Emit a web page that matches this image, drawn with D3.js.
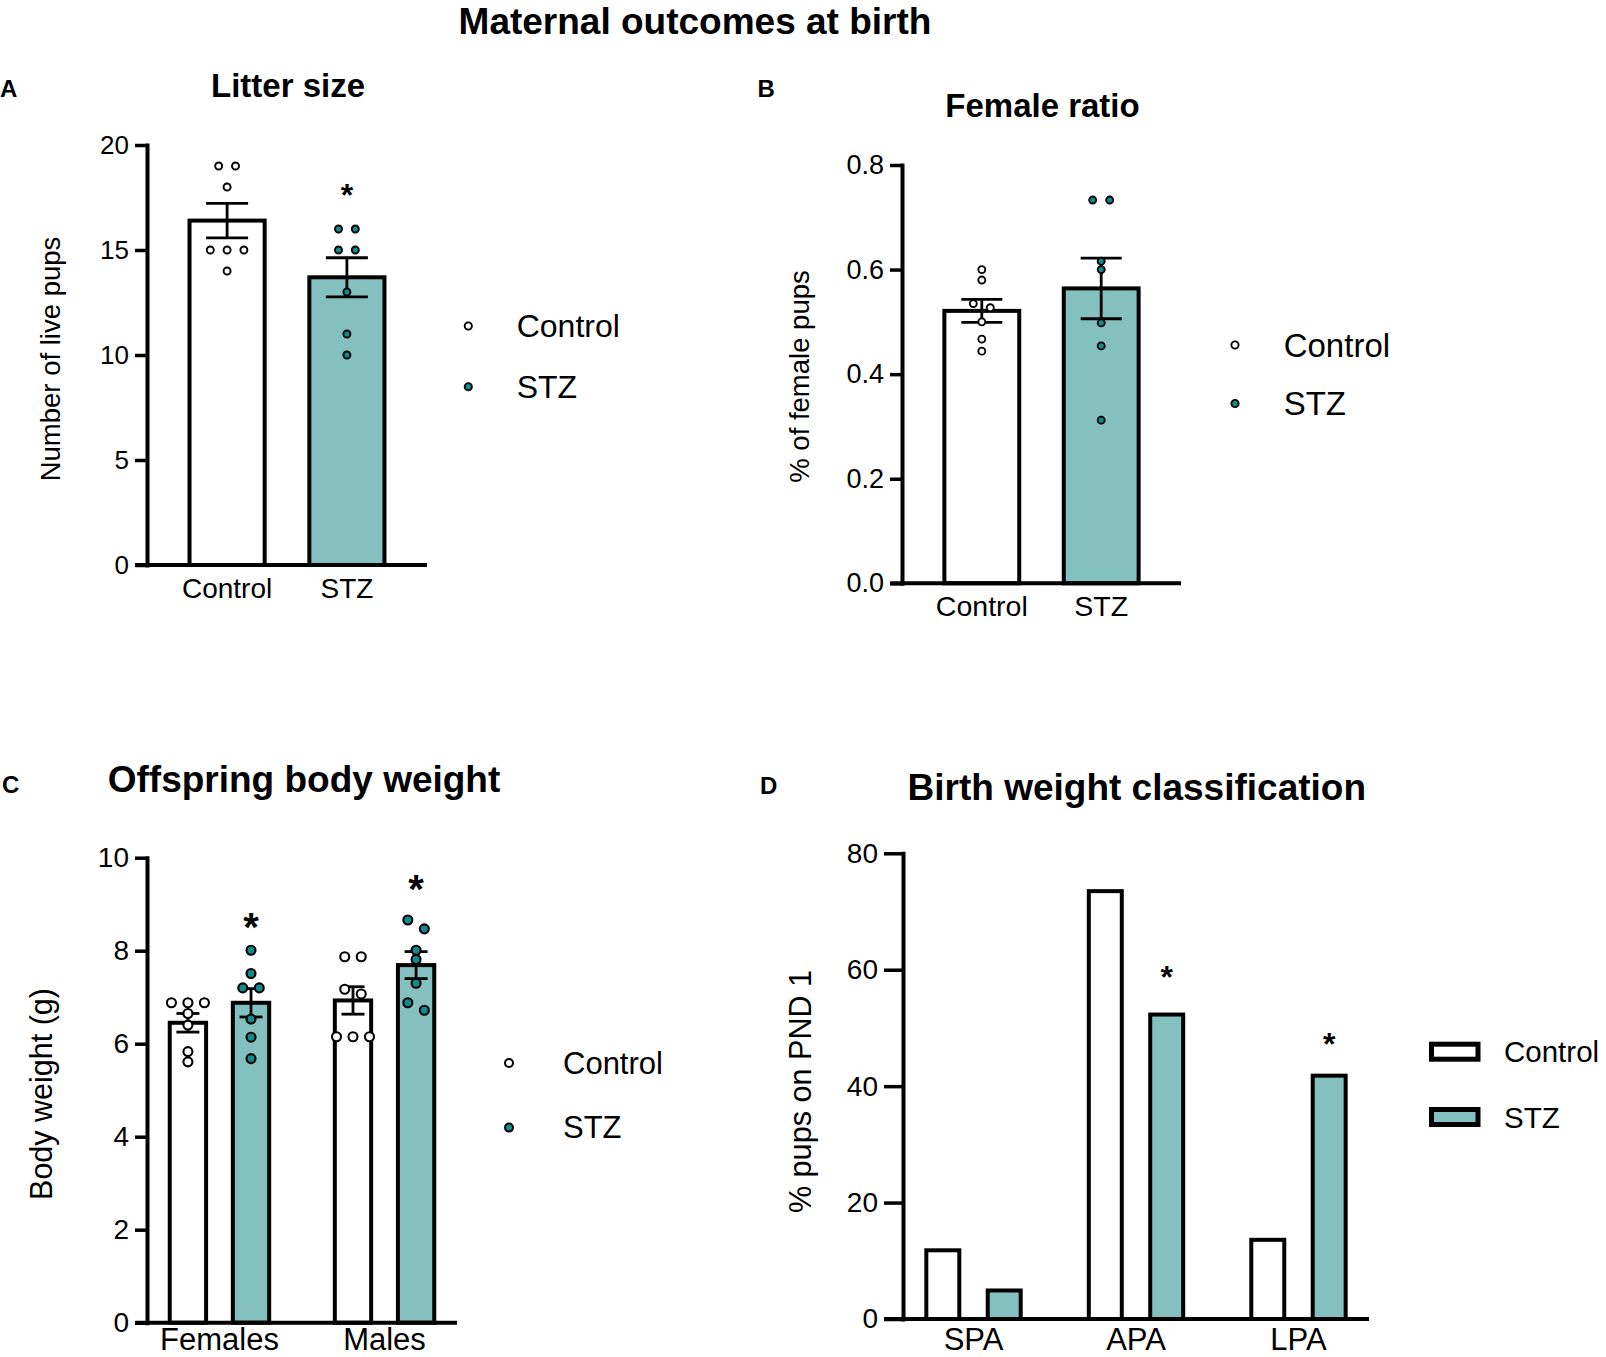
<!DOCTYPE html>
<html><head><meta charset="utf-8">
<script src="https://cdn.jsdelivr.net/npm/d3@7"></script>
<style>html,body{margin:0;padding:0;background:#fff;} svg{display:block;font-family:"Liberation Sans",Arial,Helvetica,sans-serif;}</style>
</head><body>
<script>
// ---------------- DATA ----------------
const groups = ["Control", "STZ"];

// A: Litter size
const litterControl = [19, 19, 18, 15, 15, 15, 14];
const litterSTZ = [16, 16, 15, 15, 13, 11, 10];
const litterMean = [16.4, 13.7];
const litterSEM = [0.82, 0.93];
const litterTicks = [0, 5, 10, 15, 20];
const litterStars = [{group: "STZ", value: 18.0}];

// B: Female ratio
const ratioControl = [0.600, 0.580, 0.535, 0.527, 0.500, 0.467, 0.444];
const ratioSTZ = [0.733, 0.733, 0.616, 0.600, 0.498, 0.454, 0.312];
const ratioMean = [0.521, 0.564];
const ratioSEM = [0.022, 0.058];
const ratioTicks = [0, 0.2, 0.4, 0.6, 0.8];

// C: Offspring body weight
const sexes = ["Females", "Males"];
const weightControl = {
  Females: [6.88, 6.88, 6.88, 6.65, 6.40, 5.83, 5.61],
  Males: [7.87, 7.87, 7.17, 7.07, 6.15, 6.15, 6.15]
};
const weightSTZ = {
  Females: [8.01, 7.51, 7.20, 7.20, 6.53, 6.14, 5.68],
  Males: [8.66, 8.47, 8.01, 7.81, 7.30, 6.88, 6.72]
};
const weightMeanControl = [6.45, 6.93];
const weightMeanSTZ = [6.88, 7.69];
const weightSEMControl = [0.20, 0.295];
const weightSEMSTZ = [0.305, 0.29];
const weightTicks = [0, 2, 4, 6, 8, 10];
const weightStars = [{sex: "Females", group: "STZ", value: 8.70}, {sex: "Males", group: "STZ", value: 9.52}];

// D: Birth weight classification
const classes = ["SPA", "APA", "LPA"];
const classControl = [11.8, 73.5, 13.6];
const classSTZ = [4.9, 52.3, 41.8];
const classTicks = [0, 20, 40, 60, 80];
const classStars = [{cls: "APA", value: 60}, {cls: "LPA", value: 48.5}];

// ---------------- STYLE ----------------
const TEAL_BAR = "#85c0c0";
const TEAL_DOT = "#148b8b";
const FONT = '"Liberation Sans", Arial, Helvetica, sans-serif';

const W = 1606, H = 1357;
const svg = d3.select("body").append("svg").attr("width", W).attr("height", H);
svg.append("rect").attr("width", W).attr("height", H).attr("fill", "#fff");

function txt(x, y, s, size, opts = {}) {
  const t = svg.append("text").attr("x", x).attr("y", y).text(s)
    .attr("font-size", size).attr("fill", "#000")
    .attr("font-weight", opts.bold ? "bold" : "normal")
    .attr("text-anchor", opts.anchor || "start");
  if (opts.rotate) t.attr("transform", `rotate(-90,${x},${y})`);
  return t;
}

// beeswarm-like row layout
function swarm(values, y, thresh, spacing) {
  const pts = values.map(v => ({v, py: y(v)})).sort((a, b) => a.py - b.py);
  const rows = [];
  let cur = null;
  pts.forEach(p => {
    if (cur && p.py - cur[0].py < thresh) cur.push(p);
    else { cur = [p]; rows.push(cur); }
  });
  rows.forEach(r => r.forEach((p, i) => p.dx = (i - (r.length - 1) / 2) * spacing));
  return pts;
}

function yAxis(x0, y, ticks, fmt, fontSize, tickLen) {
  const g = svg.append("g").attr("transform", `translate(${x0},0)`)
    .call(d3.axisLeft(y).tickValues(ticks).tickFormat(fmt).tickSize(tickLen).tickSizeOuter(0).tickPadding(6));
  g.select(".domain").attr("stroke", "#000").attr("stroke-width", 4).attr("stroke-linecap", "square");
  g.selectAll(".tick line").attr("stroke", "#000").attr("stroke-width", 3.5);
  g.selectAll(".tick text").attr("font-size", fontSize).attr("font-family", FONT).attr("fill", "#000");
  return g;
}

function xAxisLine(x0, x1, yv) {
  svg.append("line").attr("x1", x0).attr("x2", x1).attr("y1", yv).attr("y2", yv)
    .attr("stroke", "#000").attr("stroke-width", 4);
}

function drawBar(cx, bw, y, v, fill) {
  svg.append("rect").attr("x", cx - bw / 2).attr("y", y(v)).attr("width", bw)
    .attr("height", y(0) - y(v)).attr("fill", fill).attr("stroke", "#000").attr("stroke-width", 4);
}

function drawErr(cx, y, m, s, capW) {
  const g = svg.append("g").attr("stroke", "#000").attr("stroke-width", 2.8);
  g.append("line").attr("x1", cx).attr("x2", cx).attr("y1", y(m + s)).attr("y2", y(m - s));
  g.append("line").attr("x1", cx - capW / 2).attr("x2", cx + capW / 2).attr("y1", y(m + s)).attr("y2", y(m + s));
  g.append("line").attr("x1", cx - capW / 2).attr("x2", cx + capW / 2).attr("y1", y(m - s)).attr("y2", y(m - s));
}

function drawDots(cx, y, values, thresh, spacing, r, sw, fill) {
  swarm(values, y, thresh, spacing).forEach(p => {
    svg.append("circle").attr("cx", cx + p.dx).attr("cy", p.py).attr("r", r)
      .attr("fill", fill).attr("stroke", "#000").attr("stroke-width", sw);
  });
}

function star(x, yv, size, bold) {
  txt(x, yv, "*", size, {anchor: "middle", bold}).attr("dy", "0.58em");
}

function dotLegend(x, yc, gap, size, r, sw, textGap) {
  groups.forEach((gname, i) => {
    const yy = yc + i * gap;
    svg.append("circle").attr("cx", x).attr("cy", yy).attr("r", r)
      .attr("fill", i === 0 ? "#fff" : TEAL_DOT).attr("stroke", "#000").attr("stroke-width", sw);
    txt(x + textGap, yy + size * 0.35, gname, size);
  });
}

// ---------------- TITLE ----------------
txt(695, 34, "Maternal outcomes at birth", 37, {anchor: "middle", bold: true});

// ---------------- PANEL A ----------------
(function () {
  const y = d3.scaleLinear().domain([0, 20]).range([565, 145]);
  const x = d3.scaleBand().domain(groups).range([147, 427]).paddingInner(0.373).paddingOuter(0.355);
  txt(0, 96.5, "A", 24, {bold: true});
  txt(288, 96.7, "Litter size", 33, {anchor: "middle", bold: true});
  const dataSets = [litterControl, litterSTZ];
  groups.forEach((g, i) => {
    const cx = x(g) + x.bandwidth() / 2;
    drawBar(cx, x.bandwidth(), y, litterMean[i], i === 0 ? "#fff" : TEAL_BAR);
  });
  yAxis(147, y, litterTicks, d3.format("d"), 26, 12);
  xAxisLine(135, 427, y(0));
  groups.forEach((g, i) => {
    const cx = x(g) + x.bandwidth() / 2;
    drawErr(cx, y, litterMean[i], litterSEM[i], 42);
    drawDots(cx, y, dataSets[i], 9, 16.8, 3.5, 1.9, i === 0 ? "#fff" : TEAL_DOT);
    txt(cx, y(0) + 32.5, g, 28, {anchor: "middle"});
  });
  litterStars.forEach(s => star(x(s.group) + x.bandwidth() / 2, y(s.value), 32, true));
  txt(60, 359, "Number of live pups", 27.5, {anchor: "middle", rotate: true});
  dotLegend(468.3, 326, 60.7, 32, 3.6, 1.9, 48.4);
})();

// ---------------- PANEL B ----------------
(function () {
  const y = d3.scaleLinear().domain([0, 0.8]).range([583.3, 165]);
  const x = d3.scaleBand().domain(groups).range([902, 1181]).paddingInner(0.373).paddingOuter(0.355);
  txt(757.6, 97, "B", 24, {bold: true});
  txt(1042.5, 117, "Female ratio", 33, {anchor: "middle", bold: true});
  const dataSets = [ratioControl, ratioSTZ];
  groups.forEach((g, i) => {
    const cx = x(g) + x.bandwidth() / 2;
    drawBar(cx, x.bandwidth(), y, ratioMean[i], i === 0 ? "#fff" : TEAL_BAR);
  });
  yAxis(902, y, ratioTicks, d3.format(".1f"), 27, 12);
  xAxisLine(890, 1181, y(0));
  groups.forEach((g, i) => {
    const cx = x(g) + x.bandwidth() / 2;
    drawErr(cx, y, ratioMean[i], ratioSEM[i], 41);
    drawDots(cx, y, dataSets[i], 7, 17, 3.5, 1.9, i === 0 ? "#fff" : TEAL_DOT);
    txt(cx, y(0) + 32.5, g, 28.5, {anchor: "middle"});
  });
  txt(809, 376.5, "% of female pups", 27.5, {anchor: "middle", rotate: true});
  dotLegend(1235, 345, 58.5, 33, 3.6, 1.9, 48.7);
})();

// ---------------- PANEL C ----------------
(function () {
  const y = d3.scaleLinear().domain([0, 10]).range([1322.7, 857.7]);
  const x0 = d3.scaleBand().domain(sexes).range([147, 457]).paddingInner(0.2).paddingOuter(0.039);
  const x1 = d3.scaleBand().domain(groups).range([0, x0.bandwidth()]).paddingInner(0.424).paddingOuter(0.2585);
  const cxOf = (sex, g) => x0(sex) + x1(g) + x1.bandwidth() / 2;
  txt(2, 793, "C", 24, {bold: true});
  txt(304, 791.7, "Offspring body weight", 37, {anchor: "middle", bold: true});
  const means = [weightMeanControl, weightMeanSTZ];
  const sems = [weightSEMControl, weightSEMSTZ];
  const sets = [weightControl, weightSTZ];
  sexes.forEach((sex, si) => groups.forEach((g, gi) => {
    drawBar(cxOf(sex, g), x1.bandwidth(), y, means[gi][si], gi === 0 ? "#fff" : TEAL_BAR);
  }));
  yAxis(147, y, weightTicks, d3.format("d"), 28, 12);
  xAxisLine(135, 457, y(0));
  sexes.forEach((sex, si) => {
    groups.forEach((g, gi) => {
      const cx = cxOf(sex, g);
      drawErr(cx, y, means[gi][si], sems[gi][si], 23);
      drawDots(cx, y, sets[gi][sex], 9.2, 16.5, 4.5, 2.1, gi === 0 ? "#fff" : TEAL_DOT);
    });
    txt(x0(sex) + x0.bandwidth() / 2, 1350, sex, 31, {anchor: "middle"});
  });
  weightStars.forEach(s => star(cxOf(s.sex, s.group), y(s.value), 40, true));
  txt(52, 1094, "Body weight (g)", 30.5, {anchor: "middle", rotate: true});
  dotLegend(509, 1063, 64.6, 31, 4, 2, 54);
})();

// ---------------- PANEL D ----------------
(function () {
  const y = d3.scaleLinear().domain([0, 80]).range([1319, 853.3]);
  const x0 = d3.scaleBand().domain(classes).range([903, 1369]).paddingInner(0.2).paddingOuter(0.034);
  const x1 = d3.scaleBand().domain(groups).range([0, x0.bandwidth()]).paddingInner(0.463).paddingOuter(0.29);
  const cxOf = (c, g) => x0(c) + x1(g) + x1.bandwidth() / 2;
  txt(760, 794, "D", 24, {bold: true});
  txt(1136.8, 800, "Birth weight classification", 37, {anchor: "middle", bold: true});
  const vals = [classControl, classSTZ];
  classes.forEach((c, ci) => groups.forEach((g, gi) => {
    drawBar(cxOf(c, g), x1.bandwidth(), y, vals[gi][ci], gi === 0 ? "#fff" : TEAL_BAR);
  }));
  yAxis(903, y, classTicks, d3.format("d"), 28, 19);
  xAxisLine(884, 1369, y(0));
  classes.forEach(c => txt(x0(c) + x0.bandwidth() / 2, 1350, c, 31, {anchor: "middle"}));
  classStars.forEach(s => star(cxOf(s.cls, "STZ"), y(s.value), 32, true));
  txt(811, 1091.5, "% pups on PND 1", 30.6, {anchor: "middle", rotate: true});
  groups.forEach((g, i) => {
    const yc = 1051.7 + i * 65.3;
    svg.append("rect").attr("x", 1431.5).attr("y", yc - 7.5).attr("width", 46.5).attr("height", 15)
      .attr("fill", i === 0 ? "#fff" : TEAL_BAR).attr("stroke", "#000").attr("stroke-width", 5);
    txt(1504, yc + 10.5, g, 29.5);
  });
})();
</script>
</body></html>
